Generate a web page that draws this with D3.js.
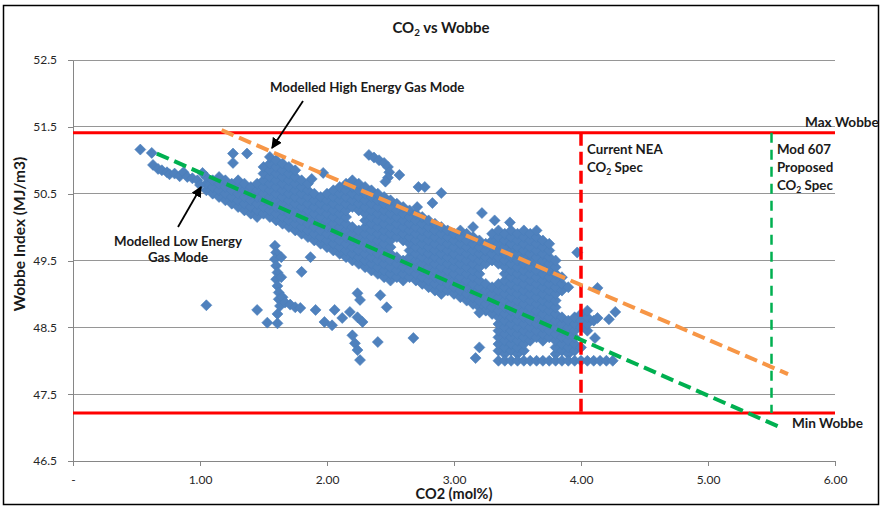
<!DOCTYPE html>
<html><head><meta charset="utf-8">
<script src="https://cdn.jsdelivr.net/npm/d3@7"></script>
<style>
body{margin:0;background:#fff}
svg{display:block}
text{font-family:Lato,"Liberation Sans",sans-serif}
</style>
</head><body>
<svg id="chart" width="882" height="508"></svg>
<script>
// ---------- DATA ----------
const co2Ticks = [0, 1, 2, 3, 4, 5, 6];
const wobbeTicks = [46.5, 47.5, 48.5, 49.5, 50.5, 51.5, 52.5];

const maxWobbe = 51.41;
const minWobbe = 47.22;
const currentNeaSpec = 4.0;
const mod607Spec = 5.5;

const highEnergyModeLine = [[1.17, 51.45], [5.63, 47.80]];
const lowEnergyModeLine = [[0.66, 51.10], [5.55, 47.02]];

// dense measurement cloud, read column by column: [CO2, [Wobbe values]]
const bandColumns = [
  [1.05, [50.55, 50.65, 50.75]],
  [1.10, [50.5, 50.6, 50.7]],
  [1.15, [50.45, 50.55, 50.65, 50.75]],
  [1.20, [50.4, 50.5, 50.6, 50.7]],
  [1.25, [50.35, 50.45, 50.55, 50.65]],
  [1.30, [50.3, 50.4, 50.5, 50.6, 50.7]],
  [1.35, [50.25, 50.35, 50.45, 50.55, 50.65]],
  [1.40, [50.2, 50.3, 50.4, 50.5, 50.6]],
  [1.45, [50.15, 50.25, 50.35, 50.45, 50.55, 50.65]],
  [1.50, [50.2, 50.3, 50.4, 50.5, 50.6, 50.7, 50.8, 50.9]],
  [1.55, [50.15, 50.25, 50.35, 50.45, 50.55, 50.65, 50.75, 50.85, 50.95, 51.05]],
  [1.60, [50.1, 50.2, 50.3, 50.4, 50.5, 50.6, 50.7, 50.8, 50.9, 51.0]],
  [1.65, [50.05, 50.15, 50.25, 50.35, 50.45, 50.55, 50.65, 50.75, 50.85, 50.95]],
  [1.70, [50.0, 50.1, 50.2, 50.3, 50.4, 50.5, 50.6, 50.7, 50.8, 50.9]],
  [1.75, [49.95, 50.05, 50.15, 50.25, 50.35, 50.45, 50.55, 50.65, 50.75, 50.85]],
  [1.80, [49.9, 50.0, 50.1, 50.2, 50.3, 50.4, 50.5, 50.6, 50.7]],
  [1.85, [49.85, 49.95, 50.05, 50.15, 50.25, 50.35, 50.45, 50.55, 50.65]],
  [1.90, [49.8, 49.9, 50.0, 50.1, 50.2, 50.3, 50.4, 50.5]],
  [1.95, [49.75, 49.85, 49.95, 50.05, 50.15, 50.25, 50.35, 50.45]],
  [2.00, [49.7, 49.8, 49.9, 50.0, 50.1, 50.2, 50.3, 50.4, 50.5]],
  [2.05, [49.65, 49.75, 49.85, 49.95, 50.05, 50.15, 50.25, 50.35, 50.45, 50.55]],
  [2.10, [49.6, 49.7, 49.8, 49.9, 50.0, 50.1, 50.2, 50.3, 50.4, 50.5, 50.6]],
  [2.15, [49.55, 49.65, 49.75, 49.85, 49.95, 50.05, 50.15, 50.25, 50.35, 50.45, 50.55, 50.65]],
  [2.20, [49.5, 49.6, 49.7, 49.8, 49.9, 50.0, 50.3, 50.4, 50.5, 50.6, 50.7]],
  [2.25, [49.45, 49.55, 49.65, 49.75, 49.85, 49.95, 50.25, 50.35, 50.45, 50.55, 50.65]],
  [2.30, [49.4, 49.5, 49.6, 49.7, 49.8, 49.9, 50.0, 50.1, 50.2, 50.3, 50.4, 50.5, 50.6]],
  [2.35, [49.35, 49.45, 49.55, 49.65, 49.75, 49.85, 49.95, 50.05, 50.15, 50.25, 50.35, 50.45, 50.55]],
  [2.40, [49.3, 49.4, 49.5, 49.6, 49.7, 49.8, 49.9, 50.0, 50.1, 50.2, 50.3, 50.4, 50.5]],
  [2.45, [49.25, 49.35, 49.45, 49.55, 49.65, 49.75, 49.85, 49.95, 50.05, 50.15, 50.25, 50.35, 50.45]],
  [2.50, [49.2, 49.3, 49.4, 49.5, 49.6, 49.7, 49.8, 49.9, 50.0, 50.1, 50.2, 50.3, 50.4]],
  [2.55, [49.25, 49.35, 49.45, 49.55, 49.85, 49.95, 50.05, 50.15, 50.25, 50.35]],
  [2.60, [49.2, 49.3, 49.4, 49.5, 49.8, 49.9, 50.0, 50.1, 50.2, 50.3]],
  [2.65, [49.25, 49.35, 49.45, 49.55, 49.65, 49.75, 49.85, 49.95, 50.05, 50.15, 50.25]],
  [2.70, [49.2, 49.3, 49.4, 49.5, 49.6, 49.7, 49.8, 49.9, 50.0, 50.1, 50.2]],
  [2.75, [49.15, 49.25, 49.35, 49.45, 49.55, 49.65, 49.75, 49.85, 49.95, 50.05, 50.15]],
  [2.80, [49.1, 49.2, 49.3, 49.4, 49.5, 49.6, 49.7, 49.8, 49.9, 50.0, 50.1]],
  [2.85, [49.05, 49.15, 49.25, 49.35, 49.45, 49.55, 49.65, 49.75, 49.85, 49.95, 50.05]],
  [2.90, [49.0, 49.1, 49.2, 49.3, 49.4, 49.5, 49.6, 49.7, 49.8, 49.9, 50.0]],
  [2.95, [49.05, 49.15, 49.25, 49.35, 49.45, 49.55, 49.65, 49.75, 49.85, 49.95]],
  [3.00, [49.0, 49.1, 49.2, 49.3, 49.4, 49.5, 49.6, 49.7, 49.8, 49.9]],
  [3.05, [48.95, 49.05, 49.15, 49.25, 49.35, 49.45, 49.55, 49.65, 49.75, 49.85, 49.95]],
  [3.10, [48.9, 49.0, 49.1, 49.2, 49.3, 49.4, 49.5, 49.6, 49.7, 49.8, 49.9]],
  [3.15, [48.85, 48.95, 49.05, 49.15, 49.25, 49.35, 49.45, 49.55, 49.65, 49.75, 49.85]],
  [3.20, [48.8, 48.9, 49.0, 49.1, 49.2, 49.3, 49.4, 49.5, 49.6, 49.7, 49.8]],
  [3.25, [48.75, 48.85, 48.95, 49.05, 49.15, 49.45, 49.55, 49.65, 49.75]],
  [3.30, [48.7, 48.8, 48.9, 49.0, 49.1, 49.5, 49.6, 49.7, 49.8, 49.9]],
  [3.35, [48.15, 48.25, 48.35, 48.45, 48.55, 48.65, 48.75, 48.85, 48.95, 49.05, 49.15, 49.45, 49.55, 49.65, 49.75, 49.85, 49.95]],
  [3.40, [48.1, 48.2, 48.3, 48.4, 48.5, 48.6, 48.7, 48.8, 48.9, 49.0, 49.1, 49.2, 49.3, 49.4, 49.5, 49.6, 49.7, 49.8, 49.9]],
  [3.45, [48.15, 48.25, 48.35, 48.45, 48.55, 48.65, 48.75, 48.85, 48.95, 49.05, 49.15, 49.25, 49.35, 49.45, 49.55, 49.65, 49.75, 49.85, 49.95]],
  [3.50, [48.1, 48.2, 48.3, 48.4, 48.5, 48.6, 48.7, 48.8, 48.9, 49.0, 49.1, 49.2, 49.3, 49.4, 49.5, 49.6, 49.7, 49.8, 49.9]],
  [3.55, [48.15, 48.25, 48.35, 48.45, 48.55, 48.65, 48.75, 48.85, 48.95, 49.05, 49.15, 49.25, 49.35, 49.45, 49.55, 49.65, 49.75, 49.85, 49.95]],
  [3.60, [48.3, 48.4, 48.5, 48.6, 48.7, 48.8, 48.9, 49.0, 49.1, 49.2, 49.3, 49.4, 49.5, 49.6, 49.7, 49.8, 49.9]],
  [3.65, [48.35, 48.45, 48.55, 48.65, 48.75, 48.85, 48.95, 49.05, 49.15, 49.25, 49.35, 49.45, 49.55, 49.65, 49.75, 49.85, 49.95]],
  [3.70, [48.3, 48.4, 48.5, 48.6, 48.7, 48.8, 48.9, 49.0, 49.1, 49.2, 49.3, 49.4, 49.5, 49.6, 49.7, 49.8]],
  [3.75, [48.35, 48.45, 48.55, 48.65, 48.75, 48.85, 48.95, 49.05, 49.15, 49.25, 49.35, 49.45, 49.55, 49.65, 49.75]],
  [3.80, [48.1, 48.2, 48.3, 48.4, 48.5, 48.6, 48.7, 48.8, 48.9, 49.0, 49.1, 49.2, 49.3, 49.4, 49.5]],
  [3.85, [48.15, 48.25, 48.35, 48.45, 48.55, 48.65, 49.05, 49.15, 49.25]],
  [3.90, [48.1, 48.2, 48.3, 48.4, 48.5, 48.6, 49.1]],
  [3.95, [48.15, 48.25, 48.35, 48.45, 48.55, 48.65]],
  [4.00, [48.2, 48.5, 48.6, 48.7]],
  [4.05, [48.45, 48.55, 48.65, 48.75]],
  [4.10, [48.6]]
];

// scattered individual readings [CO2, Wobbe]
const scatteredPoints = [
  [0.53, 51.16], [0.62, 51.11], [0.63, 50.93], [0.67, 50.87], [0.70, 50.85], [0.74, 50.82],
  [0.76, 50.79], [0.80, 50.80], [0.84, 50.76], [0.87, 50.82], [0.90, 50.75], [0.94, 50.73],
  [0.98, 50.70], [1.02, 50.81], [1.00, 50.63],
  [1.26, 51.10], [1.37, 51.10], [1.26, 50.96],
  [1.88, 50.72], [1.97, 50.81],
  [2.33, 51.08], [2.37, 51.04], [2.41, 51.00], [2.45, 50.96], [2.48, 50.90], [2.49, 50.82],
  [2.48, 50.74], [2.46, 50.68], [2.57, 50.78],
  [2.72, 50.60], [2.77, 50.60], [2.90, 50.51], [2.83, 50.36], [2.71, 50.30],
  [3.15, 50.00], [3.22, 50.21], [3.32, 50.10], [3.44, 50.07],
  [1.05, 48.83],
  [1.59, 49.72], [1.60, 49.62], [1.59, 49.52], [1.60, 49.42], [1.61, 49.32], [1.60, 49.22],
  [1.61, 49.12], [1.62, 49.02], [1.62, 48.92], [1.63, 48.82], [1.64, 49.55], [1.64, 49.25],
  [1.65, 48.95], [1.67, 48.87], [1.71, 48.84], [1.75, 48.80], [1.61, 48.70], [1.61, 48.56],
  [1.53, 48.57], [1.45, 48.76],
  [1.80, 49.33], [1.87, 49.55],
  [1.79, 48.79], [1.91, 48.76], [1.98, 48.58], [2.04, 48.53], [2.06, 48.76], [2.12, 48.64],
  [2.18, 48.73], [2.24, 48.65], [2.28, 48.58], [2.24, 49.01], [2.26, 48.91], [2.42, 48.98],
  [2.47, 48.80], [2.40, 48.28], [2.20, 48.38], [2.22, 48.26], [2.24, 48.16], [2.26, 48.01],
  [2.68, 48.34],
  [3.17, 48.04], [3.20, 48.20], [3.20, 48.72],
  [3.97, 49.62], [4.13, 49.09], [4.27, 48.73], [4.13, 48.64], [4.22, 48.62], [4.11, 48.34]
];

// readings sitting on the 48.0 floor
const floorWobbe = 48.0;
const floorCo2 = [3.35, 3.40, 3.45, 3.50, 3.55, 3.60, 3.65, 3.70, 3.75, 3.80, 3.85, 3.90, 3.95, 4.00, 4.05, 4.10, 4.15, 4.20, 4.25];

// ---------- CHART ----------
const svg = d3.select('#chart');
const x = d3.scaleLinear().domain([0, 6]).range([73, 835]);
const y = d3.scaleLinear().domain([46.5, 52.5]).range([461, 60]);

const points = [];
bandColumns.forEach(([c, ws]) => ws.forEach(w => points.push([c, w])));
scatteredPoints.forEach(p => points.push(p));
floorCo2.forEach(c => points.push([c, floorWobbe]));

// chart border
svg.append('rect').attr('x', 3.5).attr('y', 5.5).attr('width', 875).attr('height', 499)
  .attr('fill', '#fff').attr('stroke', '#000').attr('stroke-width', 1.5);

// gridlines
svg.append('g').selectAll('line').data(wobbeTicks.filter(d => d > 46.5)).join('line')
  .attr('x1', x(0)).attr('x2', x(6)).attr('y1', d => y(d)).attr('y2', d => y(d))
  .attr('stroke', '#969696').attr('stroke-width', 1).attr('shape-rendering', 'crispEdges');

// axes
const yAxis = svg.append('g').attr('transform', `translate(${x(0)},0)`)
  .call(d3.axisLeft(y).tickValues(wobbeTicks).tickFormat(d3.format('.1f')).tickSize(5).tickSizeOuter(0).tickPadding(11));
const xAxis = svg.append('g').attr('transform', `translate(0,${y(46.5)})`)
  .call(d3.axisBottom(x).tickValues(co2Ticks).tickFormat(d => d === 0 ? '-' : d3.format('.2f')(d)).tickSize(5).tickSizeOuter(0).tickPadding(9));
[yAxis, xAxis].forEach(g => {
  g.select('.domain').attr('stroke', '#868686').attr('shape-rendering', 'crispEdges');
  g.selectAll('.tick line').attr('stroke', '#868686').attr('shape-rendering', 'crispEdges');
  g.selectAll('.tick text').attr('font-size', 12).attr('fill', '#262626').style('font-family', 'Lato, sans-serif');
});

// scatter diamonds
const r = 5.5;
svg.append('g').selectAll('path').data(points).join('path')
  .attr('d', `M0,${-r}L${r},0L0,${r}L${-r},0Z`)
  .attr('transform', d => `translate(${x(d[0])},${y(d[1])})`)
  .attr('fill', '#4F81BD').attr('stroke', '#4A7EBB').attr('stroke-width', 0.6);

// spec lines
[maxWobbe, minWobbe].forEach(w => {
  svg.append('line').attr('x1', x(0)).attr('x2', x(6)).attr('y1', y(w)).attr('y2', y(w))
    .attr('stroke', '#FF0000').attr('stroke-width', 3);
});
svg.append('line').attr('x1', x(currentNeaSpec)).attr('x2', x(currentNeaSpec))
  .attr('y1', y(maxWobbe)).attr('y2', y(minWobbe))
  .attr('stroke', '#FF0000').attr('stroke-width', 3.5).attr('stroke-dasharray', '13,6');
svg.append('line').attr('x1', x(mod607Spec)).attr('x2', x(mod607Spec))
  .attr('y1', y(maxWobbe)).attr('y2', y(minWobbe))
  .attr('stroke', '#00B050').attr('stroke-width', 2.5).attr('stroke-dasharray', '10,7');

// modelled mode lines
const line = d3.line().x(d => x(d[0])).y(d => y(d[1]));
svg.append('path').datum(highEnergyModeLine).attr('d', line)
  .attr('fill', 'none').attr('stroke', '#F79646').attr('stroke-width', 4).attr('stroke-dasharray', '13,6');
svg.append('path').datum(lowEnergyModeLine).attr('d', line)
  .attr('fill', 'none').attr('stroke', '#00B050').attr('stroke-width', 4).attr('stroke-dasharray', '13,6');

// arrows
svg.append('defs').append('marker').attr('id', 'arrow')
  .attr('viewBox', '0 0 10 10').attr('refX', 9).attr('refY', 5)
  .attr('markerWidth', 6).attr('markerHeight', 6).attr('orient', 'auto')
  .append('path').attr('d', 'M0,0L10,5L0,10Z').attr('fill', '#000');
svg.append('line').attr('x1', 303).attr('y1', 101).attr('x2', 272).attr('y2', 148)
  .attr('stroke', '#000').attr('stroke-width', 1.8).attr('marker-end', 'url(#arrow)');
svg.append('line').attr('x1', 178).attr('y1', 227).attr('x2', 201).attr('y2', 187)
  .attr('stroke', '#000').attr('stroke-width', 1.8).attr('marker-end', 'url(#arrow)');

// text
function label(xp, yp, txt, anchor, size, weight) {
  return svg.append('text').attr('x', xp).attr('y', yp).attr('text-anchor', anchor || 'start')
    .attr('font-size', size || 13.3).attr('font-weight', weight || 'bold').attr('fill', '#1a1a1a').text(txt);
}
function co2Label(xp, yp, suffix, anchor, size) {
  const s = size || 13.3;
  const t = svg.append('text').attr('x', xp).attr('y', yp).attr('text-anchor', anchor || 'start')
    .attr('font-size', s).attr('font-weight', 'bold').attr('fill', '#1a1a1a');
  t.append('tspan').text('CO');
  t.append('tspan').attr('font-size', s * 0.65).attr('dy', 3).text('2');
  t.append('tspan').attr('dy', -3).text(suffix);
  return t;
}

co2Label(441, 33, ' vs Wobbe', 'middle', 15);

label(270, 92, 'Modelled High Energy Gas Mode');
label(178, 246, 'Modelled Low Energy', 'middle');
label(178, 262, 'Gas Mode', 'middle');
label(587, 154, 'Current NEA');
co2Label(587, 172, ' Spec');
label(777, 154, 'Mod 607');
label(777, 172, 'Proposed');
co2Label(777, 190, ' Spec');
label(805, 127, 'Max Wobbe', 'start', 13.6);
label(792, 428, 'Min Wobbe', 'start', 13.6);

svg.append('text').attr('x', x(3)).attr('y', 499).attr('text-anchor', 'middle')
  .attr('font-size', 14.5).attr('font-weight', 'bold').attr('fill', '#1a1a1a').text('CO2 (mol%)');
svg.append('text').attr('transform', 'translate(25,234) rotate(-90)').attr('text-anchor', 'middle')
  .attr('font-size', 15.5).attr('font-weight', 'bold').attr('fill', '#1a1a1a').text('Wobbe Index (MJ/m3)');
</script>
</body></html>
